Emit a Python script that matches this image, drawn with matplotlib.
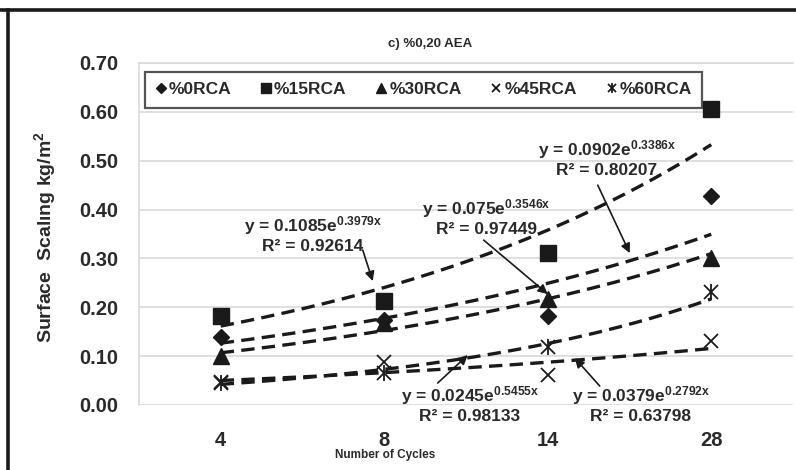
import numpy as np
import matplotlib
matplotlib.use("Agg")
import matplotlib.pyplot as plt
from matplotlib.lines import Line2D
from matplotlib.legend_handler import HandlerTuple

plt.rcParams["font.family"] = ["Liberation Sans", "DejaVu Sans"]
plt.rcParams["mathtext.fontset"] = "custom"
plt.rcParams["mathtext.rm"] = "Liberation Sans"
plt.rcParams["mathtext.it"] = "Liberation Sans"
plt.rcParams["mathtext.bf"] = "Liberation Sans:bold"

# Freeze-thaw cycles (categorical axis)
cycles = ["4", "8", "14", "28"]

# Measured surface scaling, kg/m2
series_names = ["%0RCA", "%15RCA", "%30RCA", "%45RCA", "%60RCA"]
rca0 = [0.14, 0.175, 0.183, 0.427]
rca15 = [0.182, 0.213, 0.312, 0.605]
rca30 = [0.10, 0.168, 0.216, 0.300]
rca45 = [0.048, 0.087, 0.062, 0.132]
rca60 = [0.045, 0.066, 0.118, 0.232]

# Exponential trendline coefficients y = a*e^(b*x), x = category index
trend_a = [0.0902, 0.1085, 0.075, 0.0379, 0.0245]
trend_b = [0.3386, 0.3979, 0.3546, 0.2792, 0.5455]
trend_r2 = ["0.80207", "0.92614", "0.97449", "0.63798", "0.98133"]

fig = plt.figure(figsize=(7.96, 4.70), dpi=100)
ax = fig.add_axes([139 / 796, 1 - 405 / 470, 654 / 796, 342 / 470])

x = np.arange(1, len(cycles) + 1)

# trendlines
xs = np.linspace(1, 4, 200)
for a, b in zip(trend_a, trend_b):
    ax.plot(xs, a * np.exp(b * xs), color="#1a1a1a", lw=2.4,
            dashes=(4.0, 2.2), zorder=3)

# markers
ink = "#1a1a1a"
h0, = ax.plot(x, rca0, "D", color=ink, ms=8.5, ls="none", zorder=4)
h15, = ax.plot(x, rca15, "s", color=ink, ms=11, ls="none", zorder=4)
h30, = ax.plot(x, rca30, "^", color=ink, ms=11, ls="none", zorder=4)
h45, = ax.plot(x, rca45, "x", color=ink, ms=10, mew=1.3, ls="none", zorder=4)
h60a, = ax.plot(x, rca60, "x", color=ink, ms=10, mew=1.3, ls="none", zorder=4)
h60b, = ax.plot(x, rca60, "|", color=ink, ms=12, mew=1.3, ls="none", zorder=4)

ax.set_xlim(0.5, 4.5)
ax.set_ylim(0, 0.70)
yt = np.arange(0, 0.71, 0.1)
ax.set_yticks(yt)
ax.set_yticklabels([f"{v:.2f}" for v in yt])
ax.set_xticks(x)
ax.set_xticklabels(cycles)
ax.tick_params(axis="both", length=0, labelsize=14.5, colors="#2a2a2a")
ax.tick_params(axis="y", pad=15)
ax.tick_params(axis="x", pad=19)
for lab in ax.get_xticklabels() + ax.get_yticklabels():
    lab.set_fontweight("bold")

ax.grid(axis="y", color="#d9d9d9", lw=1.2)
ax.set_axisbelow(True)
for side in ["right", "bottom"]:
    ax.spines[side].set_visible(False)
for side in ["left", "top"]:
    ax.spines[side].set_color("#d9d9d9")
    ax.spines[side].set_linewidth(1.2)

fig.text(385 / 796, 1 - 455 / 470, "Number of Cycles", fontsize=8.5,
         fontweight="bold", color="#2a2a2a", ha="center", va="center")
fig.text(45 / 796, 1 - 237 / 470, "Surface  Scalıng kg/m$^{\\mathregular{2}}$",
         fontsize=14, fontweight="bold", color="#2a2a2a", rotation=90,
         ha="center", va="center")
fig.text(430 / 796, 1 - 44 / 470, "c) %0,20 AEA", fontsize=9.5,
         fontweight="bold", color="#2a2a2a", ha="center", va="center")

leg = ax.legend([h0, h15, h30, h45, (h60a, h60b)], series_names,
                handler_map={tuple: HandlerTuple(ndivide=1, pad=0)},
                loc="upper left", bbox_to_anchor=(0.009, 0.974, 0.852, 0.0),
                mode="expand", ncol=5, fontsize=12.5, markerscale=0.6,
                handlelength=0.6, handletextpad=0.15, borderpad=0.6,
                borderaxespad=0, columnspacing=1.0, fancybox=False,
                frameon=True)
leg.get_frame().set_edgecolor("#2a2a2a")
leg.get_frame().set_linewidth(1.6)
for t in leg.get_texts():
    t.set_fontweight("bold")
    t.set_color("#2a2a2a")


def to_data(px, py):
    return 1 + (px - 221) / 163.5, (405 - py) / 489.0


def eq_label(idx, px, py):
    a, b = trend_a[idx], trend_b[idx]
    xd, yd = to_data(px, py)
    ax.text(xd, yd, f"y = {a:g}e$^{{\\mathregular{{{b:g}x}}}}$", fontsize=12.5,
            fontweight="bold", color="#2a2a2a", ha="center", va="center",
            zorder=5)
    xd2, yd2 = to_data(px, py + 21)
    ax.text(xd2, yd2, f"R² = {trend_r2[idx]}", fontsize=12.5,
            fontweight="bold", color="#2a2a2a", ha="center", va="center",
            zorder=5)


def arrow(p0, p1):
    ax.annotate("", xy=to_data(*p1), xytext=to_data(*p0),
                arrowprops=dict(arrowstyle="-|>", color=ink, lw=1.2,
                                mutation_scale=14, shrinkA=0, shrinkB=0),
                zorder=5)


eq_label(1, 313, 225)
arrow((363, 250), (373, 281))
eq_label(0, 607, 149)
arrow((598, 185), (630, 253))
eq_label(2, 487, 208)
arrow((484, 240), (548, 294))
eq_label(4, 470, 396)
arrow((438, 383), (468, 355))
eq_label(3, 641, 396)
arrow((600, 386), (575, 358))

# outer frame edges
fig.add_artist(Line2D([0, 1], [1 - 10 / 470, 1 - 10 / 470], color=ink,
                      lw=2.6, transform=fig.transFigure))
fig.add_artist(Line2D([8 / 796, 8 / 796], [0, 1 - 10 / 470], color=ink,
                      lw=2.6, transform=fig.transFigure))

fig.savefig("out.png", dpi=100)
